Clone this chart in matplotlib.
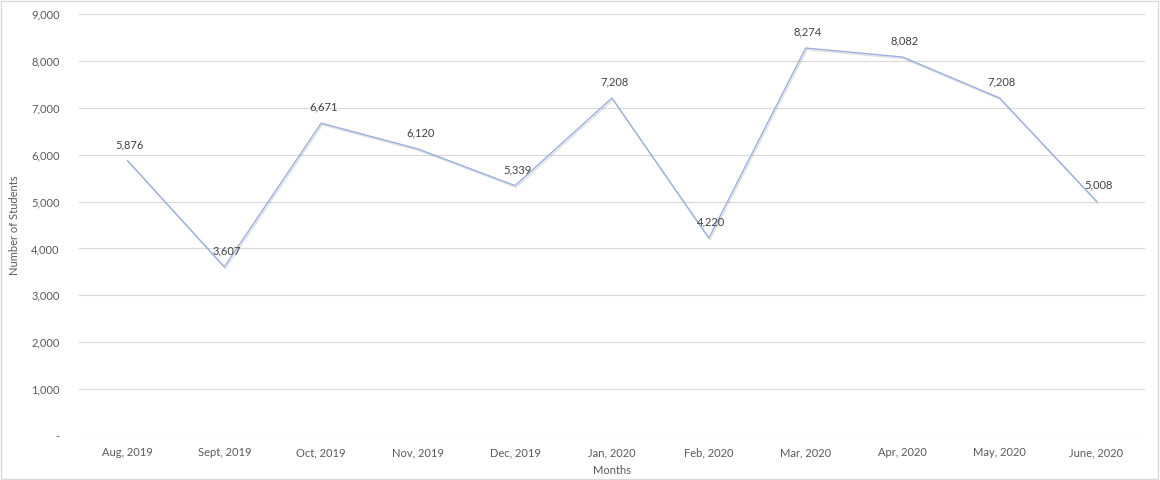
import matplotlib
matplotlib.use('Agg')
import matplotlib.pyplot as plt
import matplotlib.patheffects as pe
from matplotlib.ticker import FuncFormatter

plt.rcParams['font.family'] = ['Lato', 'DejaVu Sans']

# monthly student counts
months = ['Aug, 2019', 'Sept, 2019', 'Oct, 2019', 'Nov, 2019', 'Dec, 2019',
          'Jan, 2020', 'Feb, 2020', 'Mar, 2020', 'Apr, 2020', 'May, 2020', 'June, 2020']
students = [5876, 3607, 6671, 6120, 5339, 7208, 4220, 8274, 8082, 7208, 5008]

txt_col = '#595959'
grid_col = '#D9D9D9'

fig = plt.figure(figsize=(11.6, 4.8), dpi=100)
ax = fig.add_axes([0.0681, 0.0917, 0.9189, 0.8791])

x = list(range(len(months)))
ax.plot(x, students, color='#9AAFE0', lw=1.0,
        path_effects=[pe.SimpleLineShadow(offset=(0.8, -1.2), alpha=0.12), pe.Normal()])

for xi, v in zip(x, students):
    ax.annotate(f'{v:,}', (xi, v), xytext=(1.5, 11.5), textcoords='offset points',
                ha='center', va='center', fontsize=8, color='#404040')

ax.set_xlim(-0.5, len(months) - 0.5)
ax.set_ylim(0, 9000)
ax.set_yticks(range(0, 9001, 1000))
ax.yaxis.set_major_formatter(FuncFormatter(lambda v, p: '-' if v == 0 else f'{int(v):,}'))
ax.set_xticks(x)
ax.set_xticklabels(months)

ax.grid(axis='y', color=grid_col, lw=0.8)
ax.set_axisbelow(True)
for s in ax.spines.values():
    s.set_visible(False)
ax.tick_params(length=0, labelsize=8, colors=txt_col)
ax.tick_params(axis='y', pad=14)
ax.tick_params(axis='x', pad=8)

ax.set_xlabel('Months', fontsize=8, color=txt_col, labelpad=5)
ax.set_ylabel('Number of Students', fontsize=8, color=txt_col, labelpad=8)

# chart border
fig.patches.append(plt.Rectangle((0.001, 0.002), 0.997, 0.995, transform=fig.transFigure,
                                 fill=False, edgecolor=grid_col, lw=1))

fig.savefig('out.png', dpi=100)
